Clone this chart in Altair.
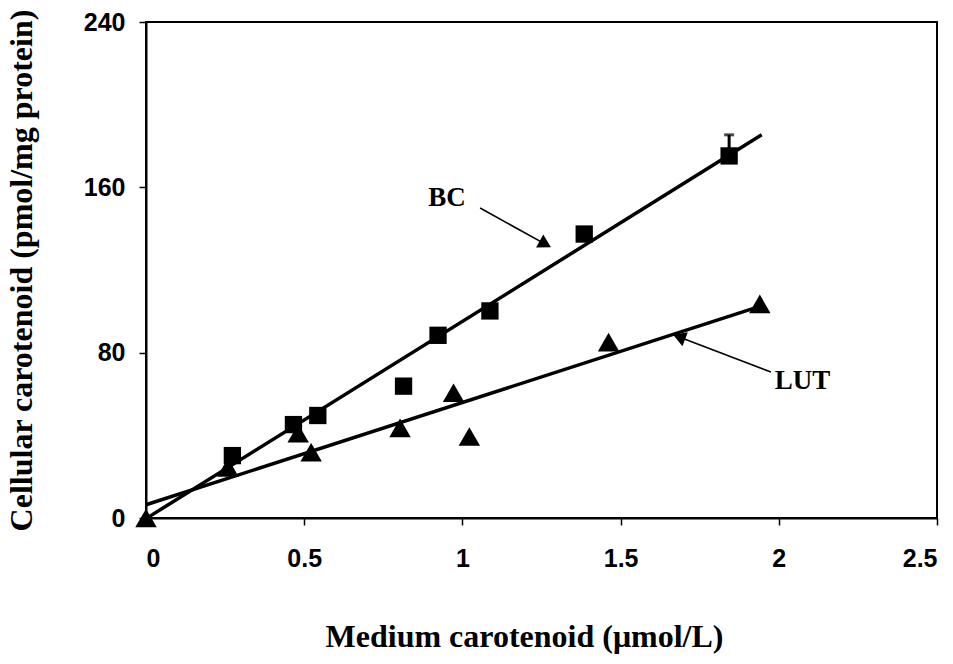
import altair as alt
import pandas as pd

# ---- data ----
bc_x = [0.273, 0.466, 0.543, 0.814, 0.923, 1.087, 1.385, 1.843]
bc_y = [30.2, 45.2, 49.6, 63.8, 88.4, 100.2, 137.4, 175.2]
lut_x = [0.0, 0.259, 0.481, 0.522, 0.803, 0.972, 1.022, 1.462, 1.94]
lut_y = [0.0, 24.5, 41.0, 31.8, 43.6, 60.6, 39.4, 85.1, 103.6]

# fitted lines (endpoints)
fit_series = ["BC", "BC", "LUT", "LUT"]
fit_x = [0.0, 1.946, 0.0, 1.93]
fit_y = [-0.3, 185.4, 6.4, 101.9]

# error bar on last BC point
err_x = [1.843]
err_lo = [175.2]
err_hi = [185.4]

# annotations
ann_text = ["BC", "LUT"]
ann_x = [0.951, 2.075]
ann_y = [154.8, 66.3]
arrow_x1 = [1.056, 1.975]
arrow_y1 = [150.0, 70.6]
arrow_x2 = [1.262, 1.685]
arrow_y2 = [132.5, 87.6]
arrow_angle = [119, 291]

x_ticks = [0, 0.5, 1, 1.5, 2, 2.5]
y_ticks = [0, 80, 160, 240]

bc = pd.DataFrame({"x": bc_x, "y": bc_y})
lut = pd.DataFrame({"x": lut_x, "y": lut_y})
fit = pd.DataFrame({"series": fit_series, "x": fit_x, "y": fit_y})
err = pd.DataFrame({"x": err_x, "lo": err_lo, "hi": err_hi})
ann = pd.DataFrame({"text": ann_text, "x": ann_x, "y": ann_y})
arr = pd.DataFrame({"x": arrow_x1, "y": arrow_y1, "x2": arrow_x2, "y2": arrow_y2,
                    "angle": arrow_angle})

xscale = alt.Scale(domain=[0, 2.5], nice=False, zero=False)
yscale = alt.Scale(domain=[0, 240], nice=False, zero=False)

X = alt.X("x:Q", scale=xscale, axis=alt.Axis(
    values=x_ticks, format="~g", title="Medium carotenoid (μmol/L)",
    titlePadding=50, titleX=378))
Y = alt.Y("y:Q", scale=yscale, axis=alt.Axis(
    values=y_ticks, title="Cellular carotenoid (pmol/mg protein)",
    titlePadding=45))

lines = alt.Chart(fit).mark_line(color="black", strokeWidth=3.5, clip=False).encode(
    x=X, y=Y, detail="series:N")

err_rule = alt.Chart(err).mark_rule(color="black", strokeWidth=3).encode(
    x=alt.X("x:Q", scale=xscale), y=alt.Y("lo:Q", scale=yscale), y2="hi:Q")
err_cap = alt.Chart(err).mark_tick(color="black", orient="horizontal", size=10,
                                   thickness=3).encode(
    x=alt.X("x:Q", scale=xscale), y=alt.Y("hi:Q", scale=yscale))

bc_pts = alt.Chart(bc).mark_point(shape="square", filled=True, color="black",
                                  size=300, opacity=1, clip=False).encode(x="x:Q", y="y:Q")
lut_pts = alt.Chart(lut).mark_point(shape="triangle-up", filled=True, color="black",
                                    size=460, opacity=1, clip=False).encode(x="x:Q", y="y:Q")

labels = alt.Chart(ann).mark_text(font="Liberation Serif", fontWeight="bold",
                                  fontSize=27, color="black").encode(
    x="x:Q", y="y:Q", text="text:N")

arrow_lines = alt.Chart(arr).mark_rule(color="black", strokeWidth=1.6).encode(
    x="x:Q", y="y:Q", x2="x2:Q", y2="y2:Q")
arrow_heads = alt.Chart(arr).mark_point(shape="triangle-up", filled=True, color="black",
                                        size=220, opacity=1).encode(
    x="x2:Q", y="y2:Q", angle=alt.Angle("angle:Q", scale=None))

chart = alt.layer(lines, err_rule, err_cap, bc_pts, lut_pts, labels,
                  arrow_lines, arrow_heads).properties(
    width=791, height=496,
    autosize=alt.AutoSizeParams(type="none"),
    padding={"left": 146, "top": 22, "right": 16, "bottom": 146},
    background="white",
).configure_view(stroke="black", strokeWidth=2).configure_axis(
    domainColor="black", domainWidth=2, tickColor="black", tickWidth=1.5,
    tickSize=7, grid=False,
    labelFont="Liberation Sans", labelFontWeight="bold", labelFontSize=25,
    labelColor="black",
    titleFont="Liberation Serif", titleFontWeight="bold", titleFontSize=32,
    titleColor="black",
).configure_axisX(labelPadding=21).configure_axisY(labelPadding=14)

chart.save("out.html", embed_options={"renderer": "svg", "actions": False})
